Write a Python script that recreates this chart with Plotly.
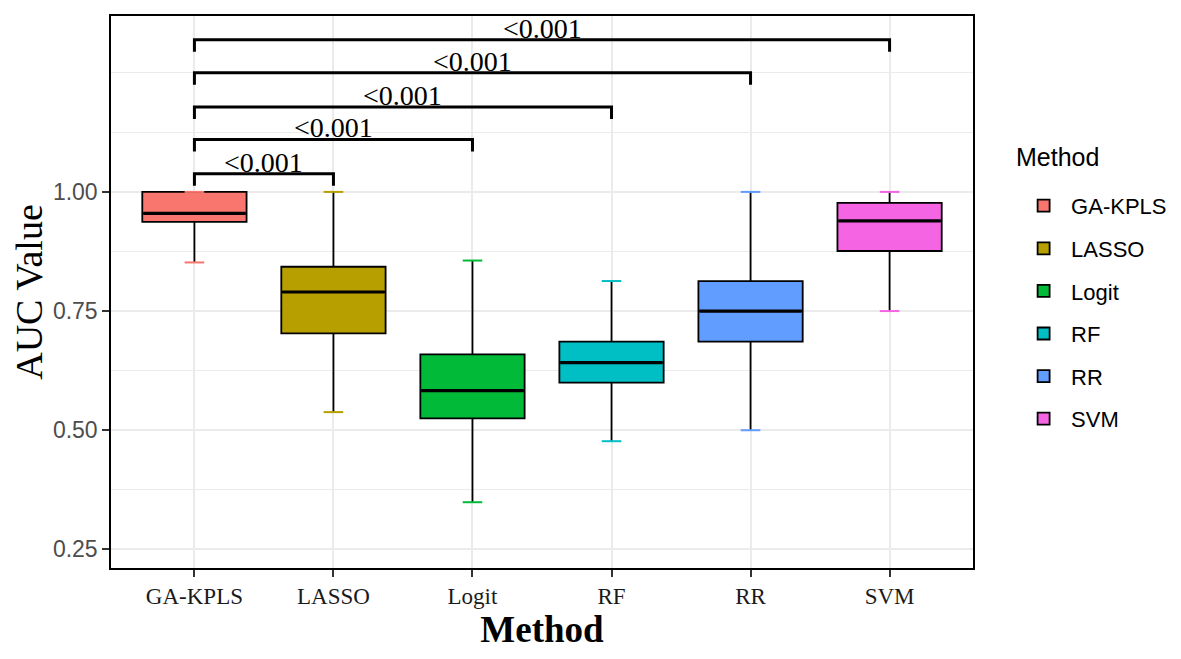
import plotly.graph_objects as go

# Box summary values (AUC)
methods = ["GA-KPLS", "LASSO", "Logit", "RF", "RR", "SVM"]
colors = ["#F8766D", "#B79F00", "#00BA38", "#00BFC4", "#619CFF", "#F564E3"]
lower = [0.852, 0.538, 0.349, 0.477, 0.500, 0.750]
q1 = [0.937, 0.703, 0.525, 0.600, 0.686, 0.876]
median = [0.955, 0.790, 0.583, 0.642, 0.750, 0.939]
q3 = [1.000, 0.843, 0.659, 0.686, 0.813, 0.977]
upper = [1.000, 1.000, 0.856, 0.813, 1.000, 1.000]

# Pairwise comparisons against GA-KPLS
compare_to = ["LASSO", "Logit", "RF", "RR", "SVM"]
p_labels = ["<0.001", "<0.001", "<0.001", "<0.001", "<0.001"]
bracket_y = [1.038, 1.110, 1.178, 1.250, 1.319]
tip = 0.025

serif = "Liberation Serif"
sans = "Liberation Sans"

fig = go.Figure()

for i, m in enumerate(methods):
    fig.add_trace(go.Box(
        x=[m], q1=[q1[i]], median=[median[i]], q3=[q3[i]],
        lowerfence=[lower[i]], upperfence=[upper[i]],
        name=m, fillcolor=colors[i],
        line=dict(color="black", width=1.8),
        whiskerwidth=0, width=0.75, boxpoints=False,
        hoverinfo="y", legendgroup=m,
    ))
    # thicker median line, as in ggplot
    fig.add_trace(go.Scatter(
        x=[m], y=[median[i]], mode="markers",
        marker=dict(symbol="line-ew", size=73,
                    line=dict(color="black", width=3.2)),
        showlegend=False, hoverinfo="skip", legendgroup=m,
    ))
    # coloured whisker caps
    fig.add_trace(go.Scatter(
        x=[m, m], y=[lower[i], upper[i]], mode="markers",
        marker=dict(symbol="line-ew", size=14,
                    line=dict(color=colors[i], width=2)),
        showlegend=False, hoverinfo="skip", legendgroup=m,
    ))

for j, other in enumerate(compare_to):
    yb = bracket_y[j]
    fig.add_trace(go.Scatter(
        x=[methods[0], methods[0], other, other],
        y=[yb - tip, yb, yb, yb - tip],
        mode="lines", line=dict(color="black", width=3),
        showlegend=False, hoverinfo="skip",
    ))
    fig.add_annotation(
        x=methods.index(other) / 2, y=yb, text=p_labels[j],
        showarrow=False, yanchor="bottom", yshift=-6,
        font=dict(family=serif, size=28, color="black"),
    )

# legend title drawn separately so the gap to the items matches
fig.add_annotation(
    xref="paper", yref="paper", x=1.048, y=0.744,
    xanchor="left", yanchor="middle", showarrow=False,
    text="Method", font=dict(family=sans, size=25, color="black"),
)

fig.update_layout(
    width=1181, height=659,
    margin=dict(l=103, r=216, t=6, b=99),
    plot_bgcolor="white", paper_bgcolor="white",
    boxmode="overlay",
    legend=dict(
        font=dict(family=sans, size=22, color="black"),
        x=1.05, xanchor="left", y=0.694, yanchor="top",
        tracegroupgap=11, itemwidth=45,
    ),
)

fig.update_xaxes(
    categoryorder="array", categoryarray=methods,
    range=[-0.6, 5.6],
    showgrid=True, gridcolor="#EBEBEB", gridwidth=1.5,
    showline=True, mirror=True, linecolor="black", linewidth=1.5,
    ticks="outside", ticklen=7, tickcolor="#333333", tickwidth=1.5,
    tickfont=dict(family=serif, size=23, color="#1A1A1A"),
    title=dict(text="<b>Method</b>", font=dict(family=serif, size=37, color="black"),
               standoff=6),
    zeroline=False,
)

fig.update_yaxes(
    range=[0.211, 1.369],
    tickvals=[0.25, 0.50, 0.75, 1.00], ticktext=["0.25", "0.50", "0.75", "1.00"],
    showgrid=True, gridcolor="#EBEBEB", gridwidth=1.5,
    minor=dict(tickmode="linear", tick0=0.125, dtick=0.125, showgrid=True,
               gridcolor="#EBEBEB", gridwidth=1, ticks=""),
    showline=True, mirror=True, linecolor="black", linewidth=1.5,
    ticks="outside", ticklen=7, tickcolor="#333333", tickwidth=1.5,
    tickfont=dict(family=sans, size=23, color="#4D4D4D"),
    title=dict(text="AUC Value", font=dict(family=serif, size=38, color="black"),
               standoff=6),
    zeroline=False,
)

fig.write_html("out.html")
